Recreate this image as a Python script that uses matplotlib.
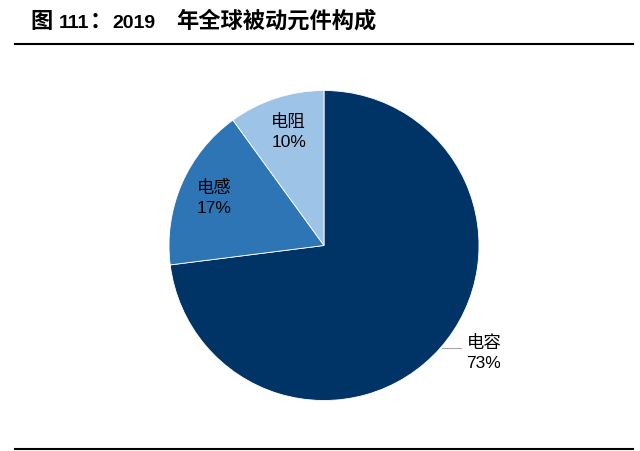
import numpy as np
import matplotlib
matplotlib.use('Agg')
import matplotlib.pyplot as plt
from matplotlib.lines import Line2D

plt.rcParams['font.family'] = ['Liberation Sans', 'Noto Sans CJK SC']

# 2019年全球被动元件构成
labels = ['电容', '电感', '电阻']
shares = [73, 17, 10]
colors = ['#003366', '#2e75b6', '#9dc3e6']

fig = plt.figure(figsize=(6.4, 4.51), dpi=100)
W, H = 640, 451

# 饼图位置 (像素)
cx, cy, R = 324, 451 - 245.5, 155
ax = fig.add_axes([(cx - R) / W, (cy - R) / H, 2 * R / W, 2 * R / H])
wedges, _ = ax.pie(shares, colors=colors, startangle=90, counterclock=False,
                   radius=1, wedgeprops=dict(edgecolor='white', linewidth=0.6))
ax.set_xlim(-1, 1)
ax.set_ylim(-1, 1)
ax.set_aspect('equal')
ax.axis('off')

# 标签
for i, w in enumerate(wedges):
    mid = np.deg2rad((w.theta1 + w.theta2) / 2)
    txt = labels[i] + '\n' + str(shares[i]) + '%'
    if i == 0:
        x, y = 1.032, -0.694
        ax.text(x, y, txt, ha='center', va='center', fontsize=12.5,
                color='black', linespacing=1.4, clip_on=False)
        ax.plot([0.761, 0.884], [-0.661, -0.661], color='#a6a6a6', lw=0.8,
                clip_on=False)
    else:
        x, y = 0.77 * np.cos(mid) + 0.01 * (i == 2), 0.77 * np.sin(mid)
        ax.text(x, y, txt, ha='center', va='center', fontsize=12.5,
                color='black', linespacing=1.4)

# 标题 (中文字略大)
parts = [('图', 16, 30), ('111', 14, 59), ('：', 16, 90), ('2019', 14, 112),
         ('年全球被动元件构成', 16, 176)]
for s, fs, xp in parts:
    fig.text(xp / W, 1 - 28 / H, s, fontsize=fs, fontweight='bold',
             ha='left', va='baseline')

fig.add_artist(Line2D([15 / W, 633 / W], [1 - 43.5 / H, 1 - 43.5 / H],
                      color='black', lw=1.5))
fig.add_artist(Line2D([15 / W, 633 / W], [1 - 449 / H, 1 - 449 / H],
                      color='black', lw=1.5))

fig.savefig('out.png', dpi=100)
